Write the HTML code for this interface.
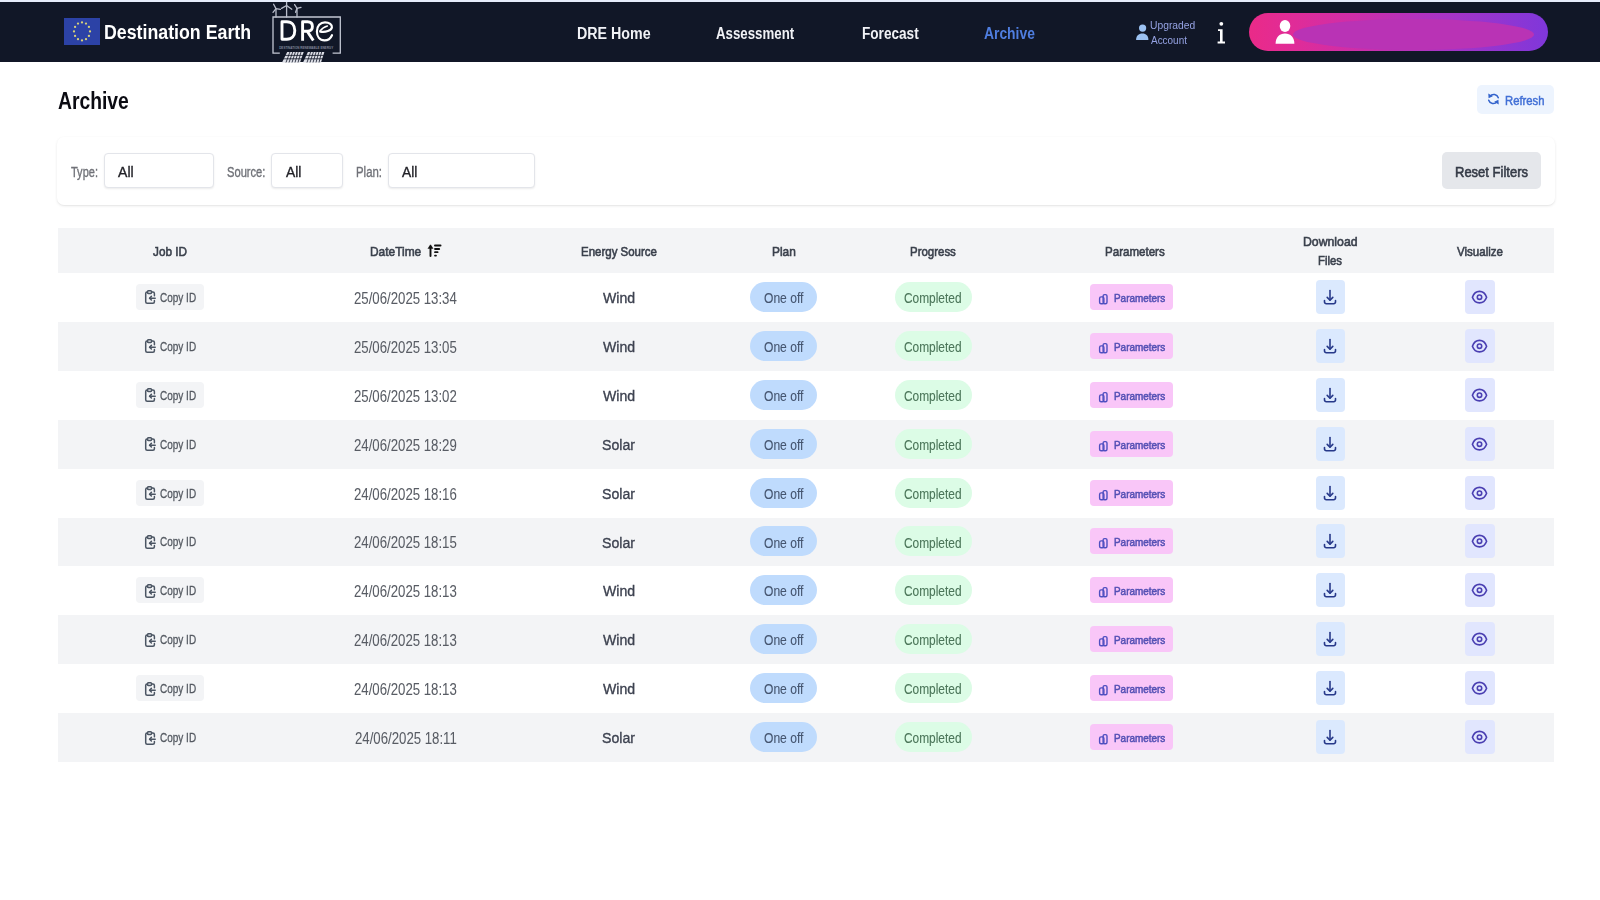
<!DOCTYPE html>
<html><head><meta charset="utf-8"><title>Archive</title>
<style>
html,body{margin:0;padding:0;}
body{width:1600px;height:900px;position:relative;overflow:hidden;background:#fff;font-family:'Liberation Sans',sans-serif;}
.t{position:absolute;white-space:nowrap;transform-origin:0 0;}
.ic{position:absolute;overflow:visible;}
#topline{position:absolute;left:0;top:0;width:1600px;height:2px;background:#e6ecfb;}
#hdr{position:absolute;left:0;top:2px;width:1600px;height:60px;background:#111727;}
#refresh{position:absolute;left:1477px;top:85px;width:77px;height:29px;background:#edf4fe;border-radius:5px;}
#card{position:absolute;left:57px;top:137px;width:1498px;height:68px;background:#fff;border-radius:7px;box-shadow:0 1px 3px rgba(0,0,0,0.09),0 1px 1px rgba(0,0,0,0.03);}
.sel{position:absolute;top:153px;height:35px;background:#fff;border:1px solid #e3e5ea;border-radius:4px;box-sizing:border-box;box-shadow:0 1px 2px rgba(0,0,0,0.08);}
#reset{position:absolute;left:1442px;top:152px;width:99px;height:37px;background:#e5e7eb;border-radius:5px;}
#thead{position:absolute;left:58px;top:228px;width:1496px;height:45px;background:#f3f4f6;}
.rowbg{position:absolute;left:58px;width:1496px;height:49px;background:#f3f4f6;}
.copybtn{position:absolute;left:136px;width:68px;height:26px;background:#f3f4f6;border-radius:4px;}
.pill{position:absolute;height:30px;border-radius:15px;}
.plan{left:750px;width:67px;background:#bfdbfd;}
.prog{left:895px;width:77px;background:#dcfce6;}
.parbtn{position:absolute;left:1090px;width:83px;height:26px;background:#f9c6f8;border-radius:4px;}
.dlbtn{position:absolute;left:1316px;width:29px;height:34px;background:#dbe9fe;border-radius:4px;}
.eyebtn{position:absolute;left:1465px;width:30px;height:34px;background:#e1e6fe;border-radius:4px;}
#pill{position:absolute;left:1249px;top:13px;width:299px;height:38px;border-radius:19px;overflow:hidden;background:linear-gradient(90deg,#ea2a88 0%,#e02c98 15%,#cf2ea8 35%,#a834c6 65%,#7f37da 100%);}
#pill .ell{position:absolute;left:44px;top:6px;width:241px;height:31px;border-radius:50%;background:#b933b5;filter:blur(0.6px);}
</style></head><body>
<svg width="0" height="0" style="position:absolute">
<defs>
<g id="i-copy" fill="none" stroke="#4b5563" stroke-width="1.5" stroke-linecap="round" stroke-linejoin="round">
  <rect x="3.5" y="0.8" width="4" height="2.6" rx="0.8"/>
  <path d="M7.8 2.1h1.1a1.5 1.5 0 0 1 1.5 1.5v2.2"/>
  <path d="M10.4 10.6v1.2a1.5 1.5 0 0 1-1.5 1.5H3.2a1.5 1.5 0 0 1-1.5-1.5V3.6a1.5 1.5 0 0 1 1.5-1.5h0.4"/>
  <path d="M11.2 8.2H5.6"/><path d="M7.4 6.4L5.6 8.2l1.8 1.8"/>
</g>
<g id="i-bars" fill="none" stroke="#4f4fc0" stroke-width="1.4" stroke-linejoin="round">
  <rect x="2.6" y="4.9" width="4.3" height="6.8" rx="1.5"/>
  <rect x="6.1" y="2.6" width="3.9" height="9.1" rx="1.5"/>
</g>
<g id="i-dl" fill="none" stroke="#27398a" stroke-width="1.6" stroke-linecap="round" stroke-linejoin="round">
  <path d="M8 2.5v9.5"/><path d="M5.2 9.4L8 12.2l2.8-2.8"/>
  <path d="M2.5 12.6v1.3a1.8 1.8 0 0 0 1.8 1.8h7.4a1.8 1.8 0 0 0 1.8-1.8v-1.3"/>
</g>
<g id="i-eye" fill="none" stroke="#4a3fb2" stroke-width="1.6">
  <path d="M2.4 9.2C4 4.9 6.5 3.4 9.5 3.4S15 4.9 16.6 9.2C15 13.5 12.5 14.9 9.5 14.9S4 13.5 2.4 9.2Z"/>
  <circle cx="9.5" cy="9.2" r="2.2"/>
</g>
</defs>
</svg>
<div id="topline"></div>
<div id="hdr"></div>
<!-- EU flag -->
<svg class="ic" style="left:64px;top:18px" width="36" height="27" viewBox="0 0 36 27">
  <rect width="36" height="27" fill="#2c42a6"/>
  <g fill="#d6d07a"><circle cx="18.00" cy="4.40" r="1.15"/><circle cx="22.00" cy="5.61" r="1.15"/><circle cx="24.93" cy="8.90" r="1.15"/><circle cx="26.00" cy="13.40" r="1.15"/><circle cx="24.93" cy="17.90" r="1.15"/><circle cx="22.00" cy="21.19" r="1.15"/><circle cx="18.00" cy="22.40" r="1.15"/><circle cx="14.00" cy="21.19" r="1.15"/><circle cx="11.07" cy="17.90" r="1.15"/><circle cx="10.00" cy="13.40" r="1.15"/><circle cx="11.07" cy="8.90" r="1.15"/><circle cx="14.00" cy="5.61" r="1.15"/></g>
</svg>
<!-- DRE logo -->
<svg class="ic" style="left:268px;top:0px" width="80" height="64" viewBox="0 0 80 64">
  <g stroke="#c3c7d3" stroke-width="1.3" fill="none">
    <path d="M11.8 53.2H5V17H72.3V53.2H64.6"/>
  </g>
  <g stroke="#b9bdcb" stroke-width="1.3" fill="none" stroke-linecap="round">
    <path d="M8 17V8.6M18.6 17V5.5M29 17V8.3"/>
    <path d="M8 8.6L5.6 4.2M8 8.6L12.4 9.4M8 8.6L5 12.3"/>
    <path d="M18.6 5.5V1.2M18.6 5.5L13.6 8.4M18.6 5.5L23.8 9.2"/>
    <path d="M29 8.3L26.6 4.6M29 8.3L33 7.4M29 8.3L27.6 12.3"/>
  </g>
  <g stroke="#ffffff" stroke-width="2.9" fill="none" stroke-linejoin="round" stroke-linecap="butt">
    <path d="M14 21.8V39.2H18.8C24 39.2 26.8 35.6 26.8 30.5S24 21.8 18.8 21.8Z"/>
    <path d="M34.6 40.7V21.8H39.6C42.8 21.8 44.4 23.8 44.4 26.6S42.8 31.3 39.6 31.3H34.6M39.2 31.3L45.3 40.5"/>
  </g>
  <g stroke="#ffffff" stroke-width="2.2" fill="none" stroke-linecap="round">
    <path d="M64 35.2C62.4 38.8 59.6 40.4 56.5 40.4C51.6 40.4 48.9 36.6 48.9 31.5C48.9 25.8 52.4 22.3 57 22.3C61.4 22.3 64.3 24.6 63.9 27.4C63.4 30.6 57.6 32.6 52.2 31.6"/>
    <path d="M52 31C54 28.2 56.4 26.6 59.4 25.9" stroke-width="1.5"/>
  </g>
  <text x="11.2" y="48.6" font-family="Liberation Sans" font-weight="700" font-size="3.6" fill="#7f8597" textLength="54" lengthAdjust="spacingAndGlyphs">DESTINATION RENEWABLE ENERGY</text>
  <g fill="#dcdee6">
    <path d="M19.2 52H35.7L32 62.5H14Z"/>
    <path d="M39.9 52H56.4L53 62.5H35Z"/>
  </g>
  <g stroke="#111727" stroke-width="0.8">
    <path d="M12 55.4H58M11 58.8H57"/>
    <path d="M21.9 52L18 62.5M24.7 52L21 62.5M27.4 52L24 62.5M30.2 52L27 62.5M33 52L30 62.5M42.6 52L39 62.5M45.4 52L42 62.5M48.1 52L45 62.5M50.9 52L48 62.5M53.6 52L51 62.5"/>
  </g>
</svg>
<div id="topline2" style="position:absolute;left:0;top:0;width:1600px;height:2px;background:#e6ecfb"></div>
<!-- upgraded person icon -->
<svg class="ic" style="left:1134px;top:23px" width="16" height="19" viewBox="0 0 16 19">
  <circle cx="8.6" cy="5.1" r="3.6" fill="#9cc2f2"/>
  <path d="M2.1 16.9C2.1 13 4.6 10.6 8.4 10.6S14.4 13 14.4 16.9Z" fill="#9cc2f2"/>
</svg>
<!-- info i -->
<svg class="ic" style="left:1215px;top:20px" width="13" height="26" viewBox="0 0 13 26">
  <circle cx="6.3" cy="3.8" r="1.9" fill="#fff"/>
  <path d="M3 9.2H7.6V21.6H10V23.4H2.6V21.6H5V11H3Z" fill="#fff"/>
</svg>
<div id="pill"><div class="ell"></div></div>
<svg class="ic" style="left:1274px;top:19px" width="22" height="26" viewBox="0 0 22 26">
  <ellipse cx="11" cy="7" rx="5.3" ry="6" fill="#fff"/>
  <path d="M1.6 24.8C1.6 18.4 5.4 14.4 11 14.4S20.4 18.4 20.4 24.8Z" fill="#fff"/>
</svg>
<div id="refresh"></div>
<svg class="ic" style="left:1486px;top:91px" width="15" height="16" viewBox="0 0 15 16">
  <g fill="none" stroke="#3363cc" stroke-width="1.5" stroke-linecap="round">
    <path d="M4 5.2A4.8 4.8 0 0 1 12.3 6.8"/>
    <path d="M11 10.8A4.8 4.8 0 0 1 2.7 9.2"/>
  </g>
  <path d="M2.3 2.4L2.6 7.2L6.8 5.2Z" fill="#3363cc"/>
  <path d="M12.7 13.6L12.4 8.8L8.2 10.8Z" fill="#3363cc"/>
</svg>
<div id="card"></div>
<div class="sel" style="left:104px;width:110px"></div>
<div class="sel" style="left:271px;width:72px"></div>
<div class="sel" style="left:388px;width:147px"></div>
<div id="reset"></div>
<div id="thead"></div>
<!-- sort icon -->
<svg class="ic" style="left:426px;top:243px" width="18" height="15" viewBox="0 0 18 15">
  <g fill="#111" stroke="#111" stroke-linecap="round">
    <path d="M4.5 13V3.5" stroke-width="1.9"/>
    <path d="M2.2 5.2L4.5 1.8L6.8 5.2Z" stroke-width="0.6" stroke-linejoin="round"/>
    <path d="M9 2.5H14.5" stroke-width="2"/><path d="M9 6H13.2" stroke-width="1.8"/>
    <path d="M9 9.2H11.6" stroke-width="1.8"/><path d="M9 12.6H10" stroke-width="1.8"/>
  </g>
</svg>
<div class="copybtn" style="top:284px"></div>
<svg class="ic" style="left:144px;top:290px" width="12" height="14" viewBox="0 0 12 14"><use href="#i-copy"/></svg>
<span class="t" style="left:160.23px;top:292px;font-size:12.3px;line-height:12.3px;font-weight:400;-webkit-text-stroke:0.3px currentColor;color:#555a62;transform:scaleX(0.8128)">Copy ID</span>
<span class="t" style="left:354.08px;top:291px;font-size:16.0px;line-height:16.0px;font-weight:400;-webkit-text-stroke:0.05px currentColor;color:#585c64;transform:scaleX(0.8249)">25/06/2025 13:34</span>
<span class="t" style="left:603.30px;top:290px;font-size:15.4px;line-height:15.4px;font-weight:400;-webkit-text-stroke:0.35px currentColor;color:#3d4250;transform:scaleX(0.9176)">Wind</span>
<div class="pill plan" style="top:282px"></div>
<span class="t" style="left:763.83px;top:291px;font-size:14.5px;line-height:14.5px;font-weight:400;-webkit-text-stroke:0.1px currentColor;color:#45556f;transform:scaleX(0.8336)">One off</span>
<div class="pill prog" style="top:282px"></div>
<span class="t" style="left:904.44px;top:291px;font-size:14.5px;line-height:14.5px;font-weight:400;-webkit-text-stroke:0.1px currentColor;color:#4b7559;transform:scaleX(0.8204)">Completed</span>
<div class="parbtn" style="top:284px"></div>
<svg class="ic" style="left:1097px;top:292px" width="12" height="13" viewBox="0 0 12 13"><use href="#i-bars"/></svg>
<span class="t" style="left:1114.32px;top:293px;font-size:11.5px;line-height:11.5px;font-weight:400;-webkit-text-stroke:0.55px currentColor;color:#5450b4;transform:scaleX(0.8628)">Parameters</span>
<div class="dlbtn" style="top:280px"></div>
<svg class="ic" style="left:1322px;top:288px" width="16" height="18" viewBox="0 0 16 18"><use href="#i-dl"/></svg>
<div class="eyebtn" style="top:280px"></div>
<svg class="ic" style="left:1470px;top:288px" width="19" height="18" viewBox="0 0 19 18"><use href="#i-eye"/></svg>
<div class="rowbg" style="top:322px;height:49px"></div>
<div class="copybtn" style="top:333px"></div>
<svg class="ic" style="left:144px;top:339px" width="12" height="14" viewBox="0 0 12 14"><use href="#i-copy"/></svg>
<span class="t" style="left:160.23px;top:341px;font-size:12.3px;line-height:12.3px;font-weight:400;-webkit-text-stroke:0.3px currentColor;color:#555a62;transform:scaleX(0.8128)">Copy ID</span>
<span class="t" style="left:354.18px;top:340px;font-size:16.0px;line-height:16.0px;font-weight:400;-webkit-text-stroke:0.05px currentColor;color:#585c64;transform:scaleX(0.8249)">25/06/2025 13:05</span>
<span class="t" style="left:603.30px;top:339px;font-size:15.4px;line-height:15.4px;font-weight:400;-webkit-text-stroke:0.35px currentColor;color:#3d4250;transform:scaleX(0.9176)">Wind</span>
<div class="pill plan" style="top:331px"></div>
<span class="t" style="left:763.83px;top:340px;font-size:14.5px;line-height:14.5px;font-weight:400;-webkit-text-stroke:0.1px currentColor;color:#45556f;transform:scaleX(0.8336)">One off</span>
<div class="pill prog" style="top:331px"></div>
<span class="t" style="left:904.44px;top:340px;font-size:14.5px;line-height:14.5px;font-weight:400;-webkit-text-stroke:0.1px currentColor;color:#4b7559;transform:scaleX(0.8204)">Completed</span>
<div class="parbtn" style="top:333px"></div>
<svg class="ic" style="left:1097px;top:341px" width="12" height="13" viewBox="0 0 12 13"><use href="#i-bars"/></svg>
<span class="t" style="left:1114.32px;top:342px;font-size:11.5px;line-height:11.5px;font-weight:400;-webkit-text-stroke:0.55px currentColor;color:#5450b4;transform:scaleX(0.8628)">Parameters</span>
<div class="dlbtn" style="top:329px"></div>
<svg class="ic" style="left:1322px;top:337px" width="16" height="18" viewBox="0 0 16 18"><use href="#i-dl"/></svg>
<div class="eyebtn" style="top:329px"></div>
<svg class="ic" style="left:1470px;top:337px" width="19" height="18" viewBox="0 0 19 18"><use href="#i-eye"/></svg>
<div class="copybtn" style="top:382px"></div>
<svg class="ic" style="left:144px;top:388px" width="12" height="14" viewBox="0 0 12 14"><use href="#i-copy"/></svg>
<span class="t" style="left:160.23px;top:390px;font-size:12.3px;line-height:12.3px;font-weight:400;-webkit-text-stroke:0.3px currentColor;color:#555a62;transform:scaleX(0.8128)">Copy ID</span>
<span class="t" style="left:354.18px;top:389px;font-size:16.0px;line-height:16.0px;font-weight:400;-webkit-text-stroke:0.05px currentColor;color:#585c64;transform:scaleX(0.8249)">25/06/2025 13:02</span>
<span class="t" style="left:603.30px;top:388px;font-size:15.4px;line-height:15.4px;font-weight:400;-webkit-text-stroke:0.35px currentColor;color:#3d4250;transform:scaleX(0.9176)">Wind</span>
<div class="pill plan" style="top:380px"></div>
<span class="t" style="left:763.83px;top:389px;font-size:14.5px;line-height:14.5px;font-weight:400;-webkit-text-stroke:0.1px currentColor;color:#45556f;transform:scaleX(0.8336)">One off</span>
<div class="pill prog" style="top:380px"></div>
<span class="t" style="left:904.44px;top:389px;font-size:14.5px;line-height:14.5px;font-weight:400;-webkit-text-stroke:0.1px currentColor;color:#4b7559;transform:scaleX(0.8204)">Completed</span>
<div class="parbtn" style="top:382px"></div>
<svg class="ic" style="left:1097px;top:390px" width="12" height="13" viewBox="0 0 12 13"><use href="#i-bars"/></svg>
<span class="t" style="left:1114.32px;top:391px;font-size:11.5px;line-height:11.5px;font-weight:400;-webkit-text-stroke:0.55px currentColor;color:#5450b4;transform:scaleX(0.8628)">Parameters</span>
<div class="dlbtn" style="top:378px"></div>
<svg class="ic" style="left:1322px;top:386px" width="16" height="18" viewBox="0 0 16 18"><use href="#i-dl"/></svg>
<div class="eyebtn" style="top:378px"></div>
<svg class="ic" style="left:1470px;top:386px" width="19" height="18" viewBox="0 0 19 18"><use href="#i-eye"/></svg>
<div class="rowbg" style="top:420px;height:49px"></div>
<div class="copybtn" style="top:431px"></div>
<svg class="ic" style="left:144px;top:437px" width="12" height="14" viewBox="0 0 12 14"><use href="#i-copy"/></svg>
<span class="t" style="left:160.23px;top:439px;font-size:12.3px;line-height:12.3px;font-weight:400;-webkit-text-stroke:0.3px currentColor;color:#555a62;transform:scaleX(0.8128)">Copy ID</span>
<span class="t" style="left:354.18px;top:438px;font-size:16.0px;line-height:16.0px;font-weight:400;-webkit-text-stroke:0.05px currentColor;color:#585c64;transform:scaleX(0.8249)">24/06/2025 18:29</span>
<span class="t" style="left:602.32px;top:437px;font-size:15.4px;line-height:15.4px;font-weight:400;-webkit-text-stroke:0.35px currentColor;color:#3d4250;transform:scaleX(0.9176)">Solar</span>
<div class="pill plan" style="top:429px"></div>
<span class="t" style="left:763.83px;top:438px;font-size:14.5px;line-height:14.5px;font-weight:400;-webkit-text-stroke:0.1px currentColor;color:#45556f;transform:scaleX(0.8336)">One off</span>
<div class="pill prog" style="top:429px"></div>
<span class="t" style="left:904.44px;top:438px;font-size:14.5px;line-height:14.5px;font-weight:400;-webkit-text-stroke:0.1px currentColor;color:#4b7559;transform:scaleX(0.8204)">Completed</span>
<div class="parbtn" style="top:431px"></div>
<svg class="ic" style="left:1097px;top:439px" width="12" height="13" viewBox="0 0 12 13"><use href="#i-bars"/></svg>
<span class="t" style="left:1114.32px;top:440px;font-size:11.5px;line-height:11.5px;font-weight:400;-webkit-text-stroke:0.55px currentColor;color:#5450b4;transform:scaleX(0.8628)">Parameters</span>
<div class="dlbtn" style="top:427px"></div>
<svg class="ic" style="left:1322px;top:435px" width="16" height="18" viewBox="0 0 16 18"><use href="#i-dl"/></svg>
<div class="eyebtn" style="top:427px"></div>
<svg class="ic" style="left:1470px;top:435px" width="19" height="18" viewBox="0 0 19 18"><use href="#i-eye"/></svg>
<div class="copybtn" style="top:480px"></div>
<svg class="ic" style="left:144px;top:486px" width="12" height="14" viewBox="0 0 12 14"><use href="#i-copy"/></svg>
<span class="t" style="left:160.23px;top:488px;font-size:12.3px;line-height:12.3px;font-weight:400;-webkit-text-stroke:0.3px currentColor;color:#555a62;transform:scaleX(0.8128)">Copy ID</span>
<span class="t" style="left:354.18px;top:487px;font-size:16.0px;line-height:16.0px;font-weight:400;-webkit-text-stroke:0.05px currentColor;color:#585c64;transform:scaleX(0.8249)">24/06/2025 18:16</span>
<span class="t" style="left:602.32px;top:486px;font-size:15.4px;line-height:15.4px;font-weight:400;-webkit-text-stroke:0.35px currentColor;color:#3d4250;transform:scaleX(0.9176)">Solar</span>
<div class="pill plan" style="top:478px"></div>
<span class="t" style="left:763.83px;top:487px;font-size:14.5px;line-height:14.5px;font-weight:400;-webkit-text-stroke:0.1px currentColor;color:#45556f;transform:scaleX(0.8336)">One off</span>
<div class="pill prog" style="top:478px"></div>
<span class="t" style="left:904.44px;top:487px;font-size:14.5px;line-height:14.5px;font-weight:400;-webkit-text-stroke:0.1px currentColor;color:#4b7559;transform:scaleX(0.8204)">Completed</span>
<div class="parbtn" style="top:480px"></div>
<svg class="ic" style="left:1097px;top:488px" width="12" height="13" viewBox="0 0 12 13"><use href="#i-bars"/></svg>
<span class="t" style="left:1114.32px;top:489px;font-size:11.5px;line-height:11.5px;font-weight:400;-webkit-text-stroke:0.55px currentColor;color:#5450b4;transform:scaleX(0.8628)">Parameters</span>
<div class="dlbtn" style="top:476px"></div>
<svg class="ic" style="left:1322px;top:484px" width="16" height="18" viewBox="0 0 16 18"><use href="#i-dl"/></svg>
<div class="eyebtn" style="top:476px"></div>
<svg class="ic" style="left:1470px;top:484px" width="19" height="18" viewBox="0 0 19 18"><use href="#i-eye"/></svg>
<div class="rowbg" style="top:518px;height:48px"></div>
<div class="copybtn" style="top:528px"></div>
<svg class="ic" style="left:144px;top:535px" width="12" height="14" viewBox="0 0 12 14"><use href="#i-copy"/></svg>
<span class="t" style="left:160.23px;top:536px;font-size:12.3px;line-height:12.3px;font-weight:400;-webkit-text-stroke:0.3px currentColor;color:#555a62;transform:scaleX(0.8128)">Copy ID</span>
<span class="t" style="left:354.18px;top:535px;font-size:16.0px;line-height:16.0px;font-weight:400;-webkit-text-stroke:0.05px currentColor;color:#585c64;transform:scaleX(0.8249)">24/06/2025 18:15</span>
<span class="t" style="left:602.32px;top:535px;font-size:15.4px;line-height:15.4px;font-weight:400;-webkit-text-stroke:0.35px currentColor;color:#3d4250;transform:scaleX(0.9176)">Solar</span>
<div class="pill plan" style="top:526px"></div>
<span class="t" style="left:763.83px;top:536px;font-size:14.5px;line-height:14.5px;font-weight:400;-webkit-text-stroke:0.1px currentColor;color:#45556f;transform:scaleX(0.8336)">One off</span>
<div class="pill prog" style="top:526px"></div>
<span class="t" style="left:904.44px;top:536px;font-size:14.5px;line-height:14.5px;font-weight:400;-webkit-text-stroke:0.1px currentColor;color:#4b7559;transform:scaleX(0.8204)">Completed</span>
<div class="parbtn" style="top:528px"></div>
<svg class="ic" style="left:1097px;top:536px" width="12" height="13" viewBox="0 0 12 13"><use href="#i-bars"/></svg>
<span class="t" style="left:1114.32px;top:537px;font-size:11.5px;line-height:11.5px;font-weight:400;-webkit-text-stroke:0.55px currentColor;color:#5450b4;transform:scaleX(0.8628)">Parameters</span>
<div class="dlbtn" style="top:524px"></div>
<svg class="ic" style="left:1322px;top:532px" width="16" height="18" viewBox="0 0 16 18"><use href="#i-dl"/></svg>
<div class="eyebtn" style="top:524px"></div>
<svg class="ic" style="left:1470px;top:532px" width="19" height="18" viewBox="0 0 19 18"><use href="#i-eye"/></svg>
<div class="copybtn" style="top:577px"></div>
<svg class="ic" style="left:144px;top:584px" width="12" height="14" viewBox="0 0 12 14"><use href="#i-copy"/></svg>
<span class="t" style="left:160.23px;top:585px;font-size:12.3px;line-height:12.3px;font-weight:400;-webkit-text-stroke:0.3px currentColor;color:#555a62;transform:scaleX(0.8128)">Copy ID</span>
<span class="t" style="left:354.18px;top:584px;font-size:16.0px;line-height:16.0px;font-weight:400;-webkit-text-stroke:0.05px currentColor;color:#585c64;transform:scaleX(0.8249)">24/06/2025 18:13</span>
<span class="t" style="left:603.30px;top:583px;font-size:15.4px;line-height:15.4px;font-weight:400;-webkit-text-stroke:0.35px currentColor;color:#3d4250;transform:scaleX(0.9176)">Wind</span>
<div class="pill plan" style="top:575px"></div>
<span class="t" style="left:763.83px;top:584px;font-size:14.5px;line-height:14.5px;font-weight:400;-webkit-text-stroke:0.1px currentColor;color:#45556f;transform:scaleX(0.8336)">One off</span>
<div class="pill prog" style="top:575px"></div>
<span class="t" style="left:904.44px;top:584px;font-size:14.5px;line-height:14.5px;font-weight:400;-webkit-text-stroke:0.1px currentColor;color:#4b7559;transform:scaleX(0.8204)">Completed</span>
<div class="parbtn" style="top:577px"></div>
<svg class="ic" style="left:1097px;top:585px" width="12" height="13" viewBox="0 0 12 13"><use href="#i-bars"/></svg>
<span class="t" style="left:1114.32px;top:586px;font-size:11.5px;line-height:11.5px;font-weight:400;-webkit-text-stroke:0.55px currentColor;color:#5450b4;transform:scaleX(0.8628)">Parameters</span>
<div class="dlbtn" style="top:573px"></div>
<svg class="ic" style="left:1322px;top:581px" width="16" height="18" viewBox="0 0 16 18"><use href="#i-dl"/></svg>
<div class="eyebtn" style="top:573px"></div>
<svg class="ic" style="left:1470px;top:581px" width="19" height="18" viewBox="0 0 19 18"><use href="#i-eye"/></svg>
<div class="rowbg" style="top:615px;height:49px"></div>
<div class="copybtn" style="top:626px"></div>
<svg class="ic" style="left:144px;top:633px" width="12" height="14" viewBox="0 0 12 14"><use href="#i-copy"/></svg>
<span class="t" style="left:160.23px;top:634px;font-size:12.3px;line-height:12.3px;font-weight:400;-webkit-text-stroke:0.3px currentColor;color:#555a62;transform:scaleX(0.8128)">Copy ID</span>
<span class="t" style="left:354.18px;top:633px;font-size:16.0px;line-height:16.0px;font-weight:400;-webkit-text-stroke:0.05px currentColor;color:#585c64;transform:scaleX(0.8249)">24/06/2025 18:13</span>
<span class="t" style="left:603.30px;top:632px;font-size:15.4px;line-height:15.4px;font-weight:400;-webkit-text-stroke:0.35px currentColor;color:#3d4250;transform:scaleX(0.9176)">Wind</span>
<div class="pill plan" style="top:624px"></div>
<span class="t" style="left:763.83px;top:633px;font-size:14.5px;line-height:14.5px;font-weight:400;-webkit-text-stroke:0.1px currentColor;color:#45556f;transform:scaleX(0.8336)">One off</span>
<div class="pill prog" style="top:624px"></div>
<span class="t" style="left:904.44px;top:633px;font-size:14.5px;line-height:14.5px;font-weight:400;-webkit-text-stroke:0.1px currentColor;color:#4b7559;transform:scaleX(0.8204)">Completed</span>
<div class="parbtn" style="top:626px"></div>
<svg class="ic" style="left:1097px;top:634px" width="12" height="13" viewBox="0 0 12 13"><use href="#i-bars"/></svg>
<span class="t" style="left:1114.32px;top:635px;font-size:11.5px;line-height:11.5px;font-weight:400;-webkit-text-stroke:0.55px currentColor;color:#5450b4;transform:scaleX(0.8628)">Parameters</span>
<div class="dlbtn" style="top:622px"></div>
<svg class="ic" style="left:1322px;top:630px" width="16" height="18" viewBox="0 0 16 18"><use href="#i-dl"/></svg>
<div class="eyebtn" style="top:622px"></div>
<svg class="ic" style="left:1470px;top:630px" width="19" height="18" viewBox="0 0 19 18"><use href="#i-eye"/></svg>
<div class="copybtn" style="top:675px"></div>
<svg class="ic" style="left:144px;top:682px" width="12" height="14" viewBox="0 0 12 14"><use href="#i-copy"/></svg>
<span class="t" style="left:160.23px;top:683px;font-size:12.3px;line-height:12.3px;font-weight:400;-webkit-text-stroke:0.3px currentColor;color:#555a62;transform:scaleX(0.8128)">Copy ID</span>
<span class="t" style="left:354.18px;top:682px;font-size:16.0px;line-height:16.0px;font-weight:400;-webkit-text-stroke:0.05px currentColor;color:#585c64;transform:scaleX(0.8249)">24/06/2025 18:13</span>
<span class="t" style="left:603.30px;top:681px;font-size:15.4px;line-height:15.4px;font-weight:400;-webkit-text-stroke:0.35px currentColor;color:#3d4250;transform:scaleX(0.9176)">Wind</span>
<div class="pill plan" style="top:673px"></div>
<span class="t" style="left:763.83px;top:682px;font-size:14.5px;line-height:14.5px;font-weight:400;-webkit-text-stroke:0.1px currentColor;color:#45556f;transform:scaleX(0.8336)">One off</span>
<div class="pill prog" style="top:673px"></div>
<span class="t" style="left:904.44px;top:682px;font-size:14.5px;line-height:14.5px;font-weight:400;-webkit-text-stroke:0.1px currentColor;color:#4b7559;transform:scaleX(0.8204)">Completed</span>
<div class="parbtn" style="top:675px"></div>
<svg class="ic" style="left:1097px;top:683px" width="12" height="13" viewBox="0 0 12 13"><use href="#i-bars"/></svg>
<span class="t" style="left:1114.32px;top:684px;font-size:11.5px;line-height:11.5px;font-weight:400;-webkit-text-stroke:0.55px currentColor;color:#5450b4;transform:scaleX(0.8628)">Parameters</span>
<div class="dlbtn" style="top:671px"></div>
<svg class="ic" style="left:1322px;top:679px" width="16" height="18" viewBox="0 0 16 18"><use href="#i-dl"/></svg>
<div class="eyebtn" style="top:671px"></div>
<svg class="ic" style="left:1470px;top:679px" width="19" height="18" viewBox="0 0 19 18"><use href="#i-eye"/></svg>
<div class="rowbg" style="top:713px;height:49px"></div>
<div class="copybtn" style="top:724px"></div>
<svg class="ic" style="left:144px;top:731px" width="12" height="14" viewBox="0 0 12 14"><use href="#i-copy"/></svg>
<span class="t" style="left:160.23px;top:732px;font-size:12.3px;line-height:12.3px;font-weight:400;-webkit-text-stroke:0.3px currentColor;color:#555a62;transform:scaleX(0.8128)">Copy ID</span>
<span class="t" style="left:354.67px;top:731px;font-size:16.0px;line-height:16.0px;font-weight:400;-webkit-text-stroke:0.05px currentColor;color:#585c64;transform:scaleX(0.8249)">24/06/2025 18:11</span>
<span class="t" style="left:602.32px;top:730px;font-size:15.4px;line-height:15.4px;font-weight:400;-webkit-text-stroke:0.35px currentColor;color:#3d4250;transform:scaleX(0.9176)">Solar</span>
<div class="pill plan" style="top:722px"></div>
<span class="t" style="left:763.83px;top:731px;font-size:14.5px;line-height:14.5px;font-weight:400;-webkit-text-stroke:0.1px currentColor;color:#45556f;transform:scaleX(0.8336)">One off</span>
<div class="pill prog" style="top:722px"></div>
<span class="t" style="left:904.44px;top:731px;font-size:14.5px;line-height:14.5px;font-weight:400;-webkit-text-stroke:0.1px currentColor;color:#4b7559;transform:scaleX(0.8204)">Completed</span>
<div class="parbtn" style="top:724px"></div>
<svg class="ic" style="left:1097px;top:732px" width="12" height="13" viewBox="0 0 12 13"><use href="#i-bars"/></svg>
<span class="t" style="left:1114.32px;top:733px;font-size:11.5px;line-height:11.5px;font-weight:400;-webkit-text-stroke:0.55px currentColor;color:#5450b4;transform:scaleX(0.8628)">Parameters</span>
<div class="dlbtn" style="top:720px"></div>
<svg class="ic" style="left:1322px;top:728px" width="16" height="18" viewBox="0 0 16 18"><use href="#i-dl"/></svg>
<div class="eyebtn" style="top:720px"></div>
<svg class="ic" style="left:1470px;top:728px" width="19" height="18" viewBox="0 0 19 18"><use href="#i-eye"/></svg>
<span class="t" style="left:104.39px;top:22px;font-size:20.8px;line-height:20.8px;font-weight:700;color:#ffffff;transform:scaleX(0.8541)">Destination Earth</span>
<span class="t" style="left:576.51px;top:26px;font-size:16.0px;line-height:16.0px;font-weight:700;color:#f1f2f6;transform:scaleX(0.8895)">DRE Home</span>
<span class="t" style="left:716.49px;top:26px;font-size:16.0px;line-height:16.0px;font-weight:700;color:#f1f2f6;transform:scaleX(0.8292)">Assessment</span>
<span class="t" style="left:861.65px;top:26px;font-size:16.0px;line-height:16.0px;font-weight:700;color:#f1f2f6;transform:scaleX(0.8504)">Forecast</span>
<span class="t" style="left:984.48px;top:26px;font-size:16.0px;line-height:16.0px;font-weight:700;color:#4f7ee0;transform:scaleX(0.8665)">Archive</span>
<span class="t" style="left:1150.36px;top:19px;font-size:11.6px;line-height:11.6px;font-weight:400;color:#95a2e2;transform:scaleX(0.8876)">Upgraded</span>
<span class="t" style="left:1151.00px;top:35px;font-size:10.9px;line-height:10.9px;font-weight:400;color:#95a2e2;transform:scaleX(0.9132)">Account</span>
<span class="t" style="left:57.70px;top:89px;font-size:24.0px;line-height:24.0px;font-weight:700;color:#0b0b12;transform:scaleX(0.8039)">Archive</span>
<span class="t" style="left:1505.12px;top:94px;font-size:13.7px;line-height:13.7px;font-weight:400;-webkit-text-stroke:0.5px currentColor;color:#416fd6;transform:scaleX(0.8238)">Refresh</span>
<span class="t" style="left:71.23px;top:166px;font-size:13.95px;line-height:13.95px;font-weight:400;-webkit-text-stroke:0.35px currentColor;color:#707278;transform:scaleX(0.7904)">Type:</span>
<span class="t" style="left:118.00px;top:165px;font-size:14.8px;line-height:14.8px;font-weight:400;-webkit-text-stroke:0.35px currentColor;color:#222228;transform:scaleX(0.9501)">All</span>
<span class="t" style="left:227.05px;top:166px;font-size:13.95px;line-height:13.95px;font-weight:400;-webkit-text-stroke:0.35px currentColor;color:#707278;transform:scaleX(0.7999)">Source:</span>
<span class="t" style="left:285.50px;top:165px;font-size:14.8px;line-height:14.8px;font-weight:400;-webkit-text-stroke:0.35px currentColor;color:#222228;transform:scaleX(0.9372)">All</span>
<span class="t" style="left:356.01px;top:166px;font-size:13.95px;line-height:13.95px;font-weight:400;-webkit-text-stroke:0.35px currentColor;color:#707278;transform:scaleX(0.8184)">Plan:</span>
<span class="t" style="left:401.60px;top:165px;font-size:14.8px;line-height:14.8px;font-weight:400;-webkit-text-stroke:0.35px currentColor;color:#222228;transform:scaleX(0.9307)">All</span>
<span class="t" style="left:1455.28px;top:164px;font-size:15.2px;line-height:15.2px;font-weight:400;-webkit-text-stroke:0.6px currentColor;color:#343a46;transform:scaleX(0.8560)">Reset Filters</span>
<span class="t" style="left:153.12px;top:245px;font-size:13.1px;line-height:13.1px;font-weight:400;-webkit-text-stroke:0.6px currentColor;color:#3a404c;transform:scaleX(0.8978)">Job ID</span>
<span class="t" style="left:370.07px;top:245px;font-size:13.1px;line-height:13.1px;font-weight:400;-webkit-text-stroke:0.6px currentColor;color:#3a404c;transform:scaleX(0.9097)">DateTime</span>
<span class="t" style="left:580.70px;top:245px;font-size:13.1px;line-height:13.1px;font-weight:400;-webkit-text-stroke:0.6px currentColor;color:#3a404c;transform:scaleX(0.8766)">Energy Source</span>
<span class="t" style="left:771.87px;top:245px;font-size:13.1px;line-height:13.1px;font-weight:400;-webkit-text-stroke:0.6px currentColor;color:#3a404c;transform:scaleX(0.9076)">Plan</span>
<span class="t" style="left:910.10px;top:245px;font-size:13.1px;line-height:13.1px;font-weight:400;-webkit-text-stroke:0.6px currentColor;color:#3a404c;transform:scaleX(0.8747)">Progress</span>
<span class="t" style="left:1104.60px;top:245px;font-size:13.1px;line-height:13.1px;font-weight:400;-webkit-text-stroke:0.6px currentColor;color:#3a404c;transform:scaleX(0.8827)">Parameters</span>
<span class="t" style="left:1302.84px;top:235px;font-size:13.1px;line-height:13.1px;font-weight:400;-webkit-text-stroke:0.6px currentColor;color:#3a404c;transform:scaleX(0.9363)">Download</span>
<span class="t" style="left:1318.01px;top:254px;font-size:13.1px;line-height:13.1px;font-weight:400;-webkit-text-stroke:0.6px currentColor;color:#3a404c;transform:scaleX(0.8656)">Files</span>
<span class="t" style="left:1457.00px;top:245px;font-size:13.1px;line-height:13.1px;font-weight:400;-webkit-text-stroke:0.6px currentColor;color:#3a404c;transform:scaleX(0.8808)">Visualize</span>
</body></html>
